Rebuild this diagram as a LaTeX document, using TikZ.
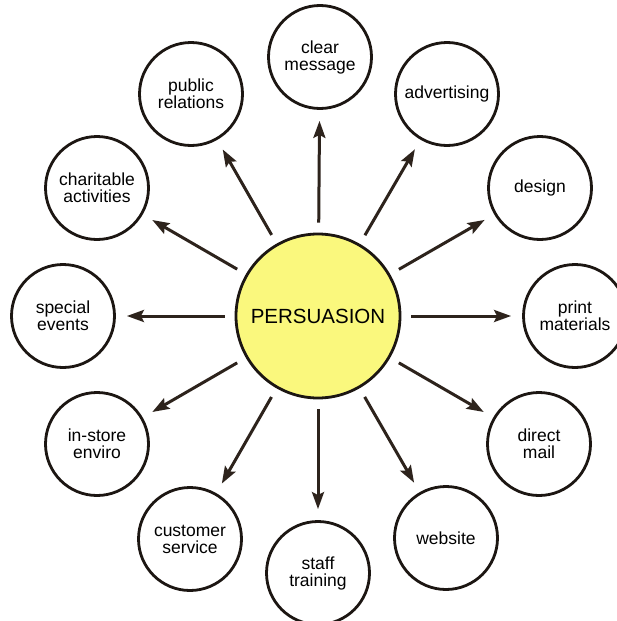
\documentclass[tikz,border=0pt]{standalone}
\usepackage{fontspec}
\setmainfont{Liberation Sans}
\usetikzlibrary{arrows.meta}
\definecolor{ylw}{RGB}{250,248,125}
\definecolor{ink}{RGB}{28,22,18}
\definecolor{arrink}{RGB}{45,35,28}
\begin{document}
\begin{tikzpicture}[x=1pt,y=-1pt,
  outer/.style={circle,draw=ink,line width=2.8pt,minimum size=103pt,inner sep=0pt,align=center,
    font=\fontsize{17.5}{17}\selectfont},
  hub/.style={circle,draw=ink,fill=ylw,line width=2.8pt,minimum size=164pt,inner sep=0pt,
    font=\fontsize{20.5}{20.5}\selectfont},
  arr/.style={draw=arrink,line width=3pt,-{Stealth[length=17pt,width=12pt,inset=3pt]},
    shorten <=10pt,shorten >=11pt}]
\useasboundingbox[fill=white] (0,0) rectangle (616,621);
\node[hub] (c) at (318,316) {PERSUASION};
\node[outer] (clear) at (320,57) {clear\\message};
\node[outer] (adv) at (447,94) {advertising};
\node[outer] (design) at (540,188) {design};
\node[outer] (print) at (575,316) {print\\materials};
\node[outer] (mail) at (539,444) {direct\\mail};
\node[outer] (web) at (446,538) {website};
\node[outer] (staff) at (318,573) {staff\\training};
\node[outer] (cust) at (190,539) {customer\\service};
\node[outer] (store) at (97,444) {in-store\\enviro};
\node[outer] (special) at (63,316) {special\\events};
\node[outer] (charity) at (97,188) {charitable\\activities};
\node[outer] (pr) at (191,94) {public\\relations};
\foreach \t in {clear,adv,design,print,mail,web,staff,cust,store,special,charity,pr}
  \draw[arr] (c) -- (\t);
\end{tikzpicture}
\end{document}
